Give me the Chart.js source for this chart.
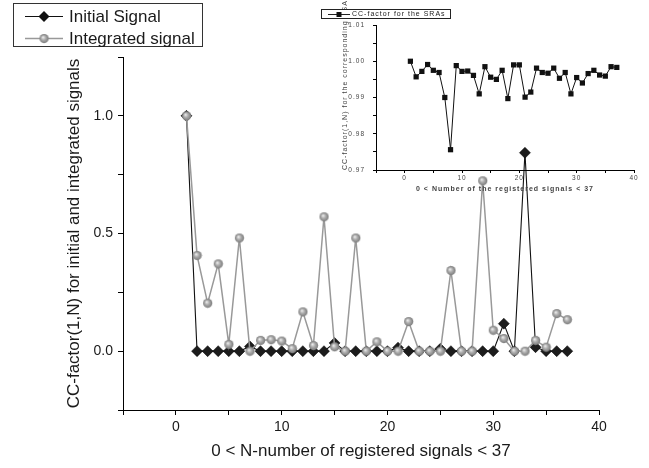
<!DOCTYPE html>
<html>
<head>
<meta charset="utf-8">
<script src="https://cdn.jsdelivr.net/npm/chart.js@4/dist/chart.umd.min.js"></script>
<style>
  html, body { margin: 0; padding: 0; background: #fff; }
  #wrap { position: relative; width: 649px; height: 468px; }
  #main { position: absolute; left: 0; top: 0; }
  #inset { position: absolute; left: 300px; top: 0; }
</style>
</head>
<body>
<div id="wrap">
  <canvas id="main" width="649" height="468"></canvas>
  <canvas id="inset" width="349" height="200"></canvas>
</div>
<script>
// N = 1..37
const nValues = [1, 2, 3, 4, 5, 6, 7, 8, 9, 10, 11, 12, 13, 14, 15, 16, 17, 18, 19, 20,
  21, 22, 23, 24, 25, 26, 27, 28, 29, 30, 31, 32, 33, 34, 35, 36, 37];

const initialSignal = [1.0, 0, 0, 0, 0, 0, 0.02, 0, 0, 0, 0, 0, 0, 0, 0.035, 0, 0, 0, 0, 0,
  0.015, 0, 0, 0, 0.01, 0, 0, 0, 0, 0, 0.117, 0, 0.843, 0.017, 0, 0, 0];

const integratedSignal = [1.0, 0.407, 0.204, 0.371, 0.029, 0.481, 0.0, 0.046, 0.049, 0.043,
  0.011, 0.167, 0.024, 0.571, 0.019, 0, 0.481, 0, 0.04, 0,
  0, 0.126, 0, 0, 0, 0.343, 0, 0, 0.724, 0.089, 0.054, 0, 0, 0.046, 0.017, 0.16, 0.134];

// inset: CC-factor for the SRAs
const sraFactor = [1.000, 0.9957, 0.9972, 0.9991, 0.9975, 0.9969, 0.9900, 0.9756, 0.9988, 0.9972,
  0.9973, 0.9961, 0.9910, 0.9985, 0.9956, 0.9950, 0.9975, 0.9897, 0.9990, 0.9990,
  0.9901, 0.9915, 0.9981, 0.9969, 0.9967, 0.9981, 0.9953, 0.9969, 0.9910, 0.9955,
  0.9940, 0.9966, 0.9975, 0.9962, 0.9959, 0.9985, 0.9983];

const mainTitleX = '0 < N-number of registered signals < 37';
const mainTitleY = 'CC-factor(1,N) for initial and integrated signals';
const insetTitleX = '0 < Number of the registered signals < 37';
const insetTitleY = 'CC-factor(1,N) for the corresponding RSAs';
const insetLabel = 'CC-factor for the SRAs';

const FONT = "'Liberation Sans', Arial, sans-serif";
const toXY = (xs, ys) => xs.map((x, i) => ({ x: x, y: ys[i] }));

// shaded grey ball used as point style
function makeBall(r) {
  const c = document.createElement('canvas');
  c.width = c.height = r * 2 + 2;
  const g = c.getContext('2d');
  const grad = g.createRadialGradient(r * 0.75 + 1, r * 0.7 + 1, 0.3, r + 1, r + 1, r);
  grad.addColorStop(0, '#ececec');
  grad.addColorStop(0.45, '#adadad');
  grad.addColorStop(1, '#7a7a7a');
  g.fillStyle = grad;
  g.beginPath();
  g.arc(r + 1, r + 1, r, 0, Math.PI * 2);
  g.fill();
  return c;
}
const ball = makeBall(4.6);

function diamond(ctx, x, y, r) {
  ctx.beginPath();
  ctx.moveTo(x - r, y); ctx.lineTo(x, y - r); ctx.lineTo(x + r, y); ctx.lineTo(x, y + r);
  ctx.closePath();
  ctx.fill();
}

const mainLegend = {
  id: 'mainLegend',
  afterDraw(chart) {
    const ctx = chart.ctx;
    const ds = chart.data.datasets;
    ctx.save();
    ctx.strokeStyle = '#333';
    ctx.lineWidth = 1;
    ctx.strokeRect(13.5, 3.5, 189, 43);
    ctx.font = '17px ' + FONT;
    ctx.textBaseline = 'middle';
    ctx.fillStyle = '#1a1a1a';
    // row 1
    ctx.strokeStyle = '#111';
    ctx.beginPath(); ctx.moveTo(25, 16.5); ctx.lineTo(63, 16.5); ctx.stroke();
    ctx.fillStyle = '#111';
    diamond(ctx, 44, 16.5, 5.5);
    ctx.fillStyle = '#1a1a1a';
    ctx.fillText(ds[1].label, 69, 17);
    // row 2
    ctx.strokeStyle = '#999';
    ctx.lineWidth = 1.5;
    ctx.beginPath(); ctx.moveTo(25, 38.5); ctx.lineTo(63, 38.5); ctx.stroke();
    ctx.drawImage(ball, 44 - ball.width / 2, 38.5 - ball.height / 2);
    ctx.fillText(ds[0].label, 69, 39);
    ctx.restore();
  }
};

const axisStyle = {
  grid: { drawOnChartArea: false, drawTicks: true, tickLength: 5, color: '#000' },
  border: { display: true, color: '#000', width: 1 }
};

new Chart(document.getElementById('main'), {
  type: 'line',
  data: {
    datasets: [
      {
        label: 'Integrated signal',
        data: toXY(nValues, integratedSignal),
        borderColor: '#999',
        borderWidth: 1.5,
        pointStyle: ball,
        pointRadius: 4.6,
        order: 0
      },
      {
        label: 'Initial Signal',
        data: toXY(nValues, initialSignal),
        borderColor: '#111',
        borderWidth: 1.1,
        pointStyle: 'rectRot',
        pointRadius: 5.5,
        pointBackgroundColor: '#1c1c1c',
        pointBorderColor: '#000',
        pointBorderWidth: 0.5,
        order: 1
      }
    ]
  },
  options: {
    responsive: false,
    animation: false,
    layout: { padding: { left: 55, top: 57, right: 50, bottom: 0 } },
    plugins: { legend: { display: false }, tooltip: { enabled: false } },
    scales: {
      x: {
        type: 'linear', min: -5, max: 40,
        ...axisStyle,
        ticks: {
          stepSize: 5, autoSkip: false, maxRotation: 0, padding: 4,
          color: '#1a1a1a', font: { size: 14, family: FONT },
          callback: v => (v % 10 === 0 ? v : '')
        },
        title: {
          display: true, text: mainTitleX, color: '#1a1a1a',
          font: { size: 17, family: FONT }, padding: { top: 0, bottom: 6 }
        },
        afterFit: s => { s.height = 58; }
      },
      y: {
        min: -0.25, max: 1.25,
        ...axisStyle,
        ticks: {
          stepSize: 0.25, autoSkip: false, padding: 5,
          color: '#1a1a1a', font: { size: 14, family: FONT },
          callback: v => (Math.round(v * 100) % 50 === 0 ? v.toFixed(1) : '')
        },
        title: {
          display: true, text: mainTitleY, color: '#1a1a1a',
          font: { size: 17, family: FONT }, padding: { top: 9, bottom: 0 }
        },
        afterFit: s => { s.width = 68; }
      }
    }
  },
  plugins: [mainLegend]
});

const spacedText = {
  id: 'spacedText',
  beforeDraw(chart) { chart.ctx.letterSpacing = '1px'; }
};

const insetLegend = {
  id: 'insetLegend',
  afterDraw(chart) {
    const ctx = chart.ctx;
    ctx.save();
    ctx.fillStyle = '#fff';
    ctx.fillRect(21.5, 9.5, 129, 9);
    ctx.strokeStyle = '#222';
    ctx.lineWidth = 1;
    ctx.strokeRect(21.5, 9.5, 129, 9);
    ctx.beginPath(); ctx.moveTo(28, 14.5); ctx.lineTo(50, 14.5); ctx.stroke();
    ctx.fillStyle = '#111';
    ctx.fillRect(36.5, 12, 5, 5);
    ctx.letterSpacing = '1px';
    ctx.font = '7px ' + FONT;
    ctx.textBaseline = 'middle';
    ctx.fillStyle = '#222';
    ctx.fillText(chart.data.datasets[0].label, 52, 14.5);
    ctx.restore();
  }
};

const insetAxis = {
  grid: { drawOnChartArea: false, drawTicks: true, tickLength: 3, color: '#000' },
  border: { display: true, color: '#000', width: 1 }
};

new Chart(document.getElementById('inset'), {
  type: 'line',
  data: {
    datasets: [{
      label: insetLabel,
      data: toXY(nValues, sraFactor),
      borderColor: '#111',
      borderWidth: 1,
      pointStyle: 'rect',
      pointRadius: 3.7,
      pointBackgroundColor: '#111',
      pointBorderColor: '#111',
      pointBorderWidth: 0
    }]
  },
  options: {
    responsive: false,
    animation: false,
    layout: { padding: { left: 36, top: 25, right: 15, bottom: 0 } },
    plugins: { legend: { display: false }, tooltip: { enabled: false } },
    scales: {
      x: {
        type: 'linear', min: -5, max: 40,
        ...insetAxis,
        ticks: {
          stepSize: 5, autoSkip: false, maxRotation: 0, padding: 1,
          color: '#444', font: { size: 6.5, family: FONT },
          callback: v => (v % 10 === 0 ? v : '')
        },
        title: {
          display: true, text: insetTitleX, color: '#444',
          font: { size: 7, weight: 'bold', family: FONT }, padding: { top: 0, bottom: 7 }
        },
        afterFit: s => { s.height = 30; }
      },
      y: {
        min: 0.97, max: 1.01,
        ...insetAxis,
        ticks: {
          stepSize: 0.005, autoSkip: false, padding: 8,
          color: '#444', font: { size: 6.5, family: FONT },
          callback: v => (Math.round(v * 1000) % 10 === 0 ? v.toFixed(2) : '')
        },
        title: {
          display: true, text: insetTitleY, align: 'start', color: '#444',
          font: { size: 7, family: FONT }, padding: { top: 5, bottom: 0 }
        },
        afterFit: s => { s.width = 40; }
      }
    }
  },
  plugins: [spacedText, insetLegend]
});
</script>
</body>
</html>
